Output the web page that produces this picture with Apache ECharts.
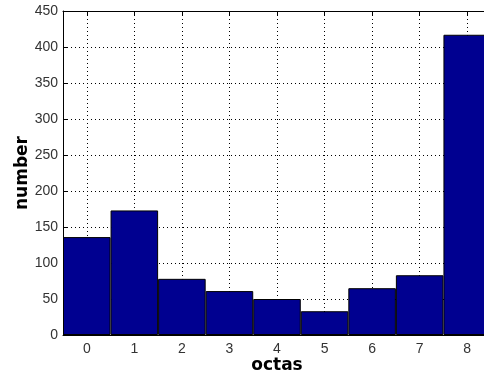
<!DOCTYPE html>
<html>
<head>
<meta charset="utf-8">
<script src="https://cdn.jsdelivr.net/npm/echarts@6/dist/echarts.min.js"></script>
<style>
html,body{margin:0;padding:0;background:#fff;}
#c{width:484px;height:375px;}
</style>
</head>
<body>
<div id="c"></div>
<script>
const categories = ['0','1','2','3','4','5','6','7','8'];
const counts = [136, 173, 78, 61, 50, 33, 65, 83, 417];
const yTicks = [0, 50, 100, 150, 200, 250, 300, 350, 400, 450];

const chart = echarts.init(document.getElementById('c'));
const lab = {fontFamily: 'Liberation Sans, Arial, sans-serif', fontSize: 14, color: '#333'};
const nameStyle = {fontFamily: 'DejaVu Sans', fontSize: 17, fontWeight: 'bold', color: '#000'};
const dotted = {show: true, lineStyle: {color: '#000', type: [1, 3], width: 1}};
chart.setOption({
  animation: false,
  grid: {left: 63, top: 11, width: 428, bottom: 40, containLabel: false, outerBoundsMode: 'none'},
  xAxis: [{
    type: 'category', data: categories, boundaryGap: true,
    axisLine: {show: true, lineStyle: {color: '#000', width: 1}},
    axisTick: {show: true, inside: true, alignWithLabel: true, length: 4, lineStyle: {color: '#000'}},
    splitLine: Object.assign({alignWithLabel: true}, dotted),
    axisLabel: Object.assign({margin: 7}, lab),
    name: 'octas', nameLocation: 'middle', nameGap: 22, nameMoveOverlap: false,
    nameTextStyle: nameStyle
  }, {
    type: 'category', data: categories, position: 'top', boundaryGap: true,
    axisLine: {show: true, lineStyle: {color: '#000', width: 1}},
    axisTick: {show: true, inside: true, alignWithLabel: true, length: 4, lineStyle: {color: '#000'}},
    axisLabel: {show: false}, splitLine: {show: false}
  }],
  yAxis: {
    type: 'value', min: yTicks[0], max: yTicks[yTicks.length - 1], interval: yTicks[1] - yTicks[0],
    axisLine: {show: true, lineStyle: {color: '#000', width: 1}},
    axisTick: {show: true, inside: true, length: 4, lineStyle: {color: '#000'}},
    splitLine: dotted,
    axisLabel: Object.assign({margin: 5}, lab),
    name: 'number', nameLocation: 'middle', nameGap: 32, nameRotate: 90, nameMoveOverlap: false,
    nameTextStyle: nameStyle
  },
  series: [{
    type: 'bar', data: counts, barWidth: '100%', barCategoryGap: 0,
    itemStyle: {color: '#000090', borderColor: '#000', borderWidth: 1}
  }]
});
</script>
</body>
</html>
